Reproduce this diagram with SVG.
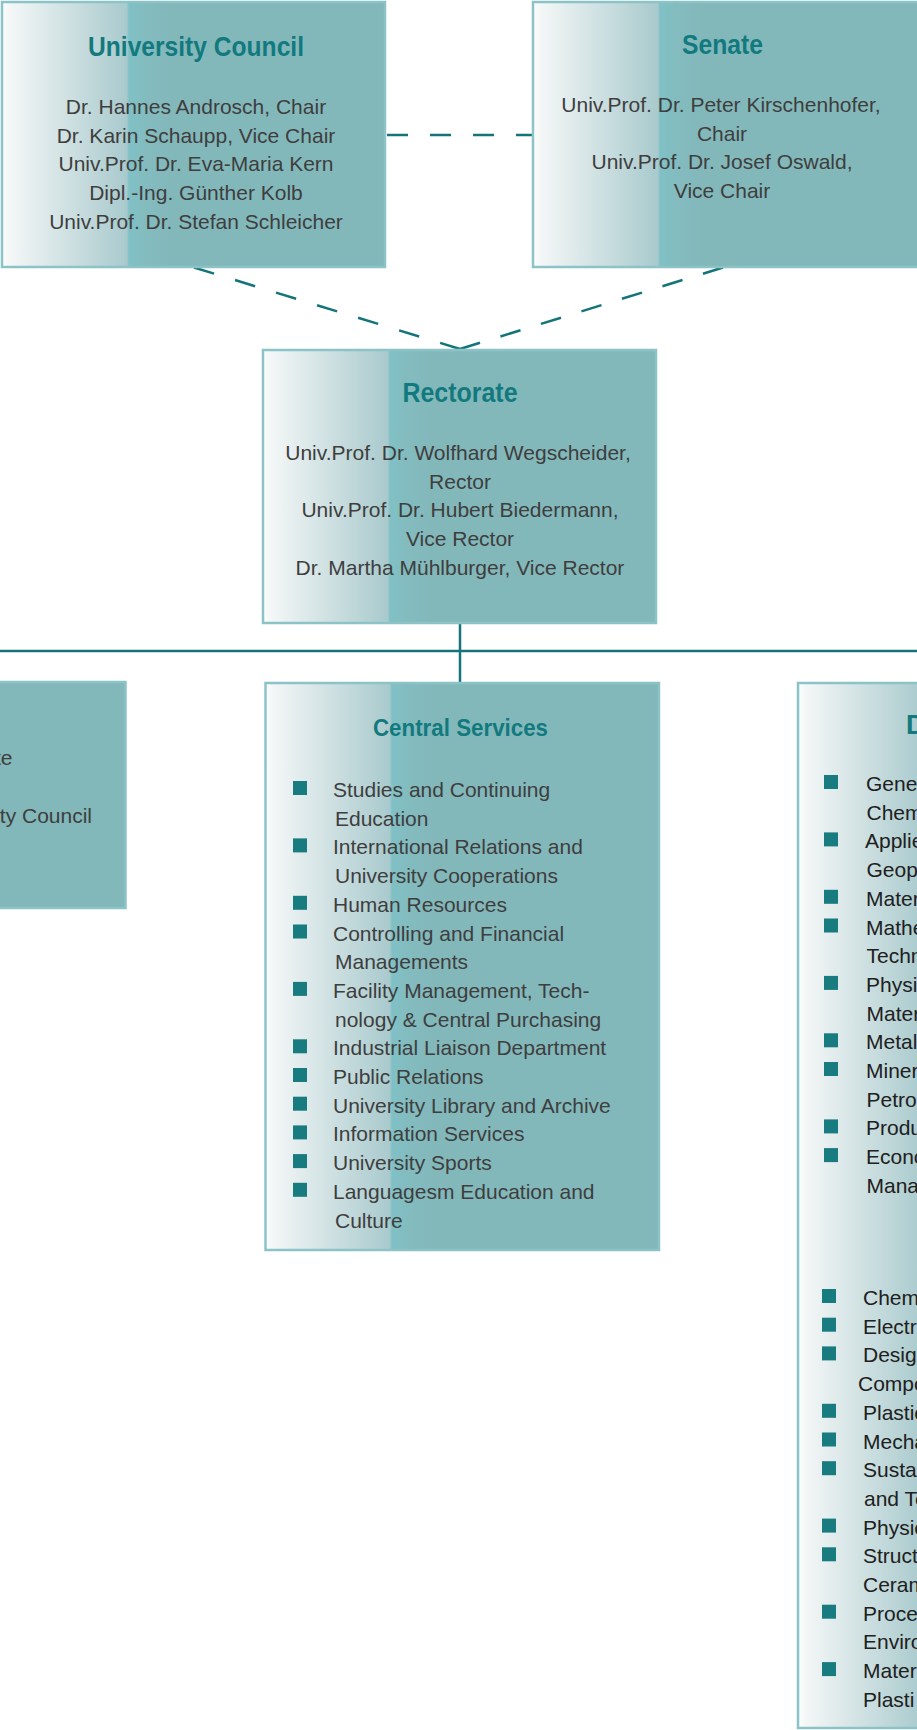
<svg xmlns="http://www.w3.org/2000/svg" width="917" height="1730" viewBox="0 0 917 1730">
  <style>
    .box { stroke: #8cc3c7; stroke-width: 2.5; }
    .flat { fill: #83b8bb; }
    .title { font-family: "Liberation Sans", Arial, sans-serif; font-weight: bold; font-size: 27px; fill: #127a7e; text-anchor: middle; }
    .body { font-family: "Liberation Sans", Arial, sans-serif; font-size: 21px; fill: #3e3e3e; }
    .mid { text-anchor: middle; }
    .end { text-anchor: end; }
    .dark { fill: #202020; }
    .bullet { fill: #187b7f; }
    .dash { stroke: #147479; stroke-width: 2.5; fill: none; }
    .solid { stroke: #147479; stroke-width: 2.5; fill: none; }
  </style>
  <defs>
    <!-- white-to-teal fade on the left part of every box, 128px wide -->
    <linearGradient id="fade" gradientUnits="userSpaceOnUse" x1="0" y1="0" x2="170" y2="0">
      <stop offset="0" stop-color="#fdfdfd"/>
      <stop offset="0.06" stop-color="#f3f6f6"/>
      <stop offset="0.74" stop-color="#a9cacd"/>
      <stop offset="0.752" stop-color="#80c1c6"/>
      <stop offset="0.86" stop-color="#83bbbe"/>
      <stop offset="1" stop-color="#83b8bb"/>
    </linearGradient>
    <linearGradient id="fadeCouncil" href="#fade" gradientTransform="translate(1,0)"/>
    <linearGradient id="fadeSenate" href="#fade" gradientTransform="translate(532,0)"/>
    <linearGradient id="fadeRectorate" href="#fade" gradientTransform="translate(262,0)"/>
    <linearGradient id="fadeServices" href="#fade" gradientTransform="translate(264,0)"/>
    <linearGradient id="fadeDepartments" href="#fade" gradientTransform="translate(797,0)"/>
  </defs>

  <g id="connectors">
    <line class="dash" x1="387" y1="135" x2="532" y2="135" stroke-dasharray="21 22"/>
    <line class="dash" x1="194" y1="267.5" x2="460" y2="349" stroke-dasharray="21 21.9"/>
    <line class="dash" x1="723" y1="267.5" x2="460" y2="349" stroke-dasharray="21 21.4"/>
    <line class="solid" x1="460" y1="624" x2="460" y2="682"/>
    <line class="solid" x1="0" y1="651" x2="917" y2="651"/>
  </g>

  <g id="university-council">
    <rect class="box" x="2" y="2" width="383" height="265" fill="url(#fadeCouncil)"/>
    <text class="title" x="196" y="56" textLength="216" lengthAdjust="spacingAndGlyphs">University Council</text>
    <text class="body mid" x="196" y="114">Dr. Hannes Androsch, Chair</text>
    <text class="body mid" x="196" y="142.7">Dr. Karin Schaupp, Vice Chair</text>
    <text class="body mid" x="196" y="171.4">Univ.Prof. Dr. Eva-Maria Kern</text>
    <text class="body mid" x="196" y="200.1">Dipl.-Ing. Günther Kolb</text>
    <text class="body mid" x="196" y="228.8">Univ.Prof. Dr. Stefan Schleicher</text>
  </g>

  <g id="senate">
    <rect class="box" x="533" y="2" width="390" height="265" fill="url(#fadeSenate)"/>
    <text class="title" x="722.5" y="54" textLength="81" lengthAdjust="spacingAndGlyphs">Senate</text>
    <text class="body mid" x="721" y="112">Univ.Prof. Dr. Peter Kirschenhofer,</text>
    <text class="body mid" x="722" y="140.7">Chair</text>
    <text class="body mid" x="722" y="169.4">Univ.Prof. Dr. Josef Oswald,</text>
    <text class="body mid" x="722" y="198.1">Vice Chair</text>
  </g>

  <g id="rectorate">
    <rect class="box" x="263" y="350" width="393" height="273" fill="url(#fadeRectorate)"/>
    <text class="title" x="460" y="401.5" textLength="115" lengthAdjust="spacingAndGlyphs">Rectorate</text>
    <text class="body mid" x="458" y="460">Univ.Prof. Dr. Wolfhard Wegscheider,</text>
    <text class="body mid" x="460" y="488.7">Rector</text>
    <text class="body mid" x="460" y="517.4">Univ.Prof. Dr. Hubert Biedermann,</text>
    <text class="body mid" x="460" y="546.1">Vice Rector</text>
    <text class="body mid" x="460" y="574.8">Dr. Martha Mühlburger, Vice Rector</text>
  </g>

  <g id="staff-units">
    <rect class="box flat" x="-5" y="682" width="130.5" height="226"/>
    <text class="body end" x="12.5" y="765">te</text>
    <text class="body end" x="92" y="822.7">ty Council</text>
  </g>

  <g id="central-services">
    <rect class="box" x="265.5" y="683" width="393.5" height="567" fill="url(#fadeServices)"/>
    <text class="title" x="460.5" y="736" textLength="175" lengthAdjust="spacingAndGlyphs" style="font-size:24px">Central Services</text>
    <g class="bullet">
      <rect x="293" y="781" width="14" height="14"/>
      <rect x="293" y="838.4" width="14" height="14"/>
      <rect x="293" y="895.8" width="14" height="14"/>
      <rect x="293" y="924.5" width="14" height="14"/>
      <rect x="293" y="981.9" width="14" height="14"/>
      <rect x="293" y="1039.3" width="14" height="14"/>
      <rect x="293" y="1068" width="14" height="14"/>
      <rect x="293" y="1096.7" width="14" height="14"/>
      <rect x="293" y="1125.4" width="14" height="14"/>
      <rect x="293" y="1154.1" width="14" height="14"/>
      <rect x="293" y="1182.8" width="14" height="14"/>
    </g>
    <text class="body" x="333" y="797">Studies and Continuing</text>
    <text class="body" x="335" y="825.7">Education</text>
    <text class="body" x="333" y="854.4">International Relations and</text>
    <text class="body" x="335" y="883.1">University Cooperations</text>
    <text class="body" x="333" y="911.8">Human Resources</text>
    <text class="body" x="333" y="940.5">Controlling and Financial</text>
    <text class="body" x="335" y="969.2">Managements</text>
    <text class="body" x="333" y="997.9">Facility Management, Tech-</text>
    <text class="body" x="335" y="1026.6">nology &amp; Central Purchasing</text>
    <text class="body" x="333" y="1055.3">Industrial Liaison Department</text>
    <text class="body" x="333" y="1084">Public Relations</text>
    <text class="body" x="333" y="1112.7">University Library and Archive</text>
    <text class="body" x="333" y="1141.4">Information Services</text>
    <text class="body" x="333" y="1170.1">University Sports</text>
    <text class="body" x="333" y="1198.8">Languagesm Education and</text>
    <text class="body" x="335" y="1227.5">Culture</text>
  </g>

  <g id="departments">
    <rect class="box" x="798" y="683" width="400" height="1045" fill="url(#fadeDepartments)"/>
    <text class="title" x="906" y="734" style="text-anchor:start">D</text>
    <g class="bullet">
      <rect x="824" y="775" width="14" height="14"/>
      <rect x="824" y="832.4" width="14" height="14"/>
      <rect x="824" y="889.8" width="14" height="14"/>
      <rect x="824" y="918.5" width="14" height="14"/>
      <rect x="824" y="975.9" width="14" height="14"/>
      <rect x="824" y="1033.3" width="14" height="14"/>
      <rect x="824" y="1062" width="14" height="14"/>
      <rect x="824" y="1119.4" width="14" height="14"/>
      <rect x="824" y="1148.1" width="14" height="14"/>
      <rect x="822" y="1289" width="14" height="14"/>
      <rect x="822" y="1317.7" width="14" height="14"/>
      <rect x="822" y="1346.4" width="14" height="14"/>
      <rect x="822" y="1403.8" width="14" height="14"/>
      <rect x="822" y="1432.5" width="14" height="14"/>
      <rect x="822" y="1461.2" width="14" height="14"/>
      <rect x="822" y="1518.6" width="14" height="14"/>
      <rect x="822" y="1547.3" width="14" height="14"/>
      <rect x="822" y="1604.7" width="14" height="14"/>
      <rect x="822" y="1662.1" width="14" height="14"/>
    </g>
    <g class="body dark">
      <text x="866" y="791">Gener</text>
      <text x="866.5" y="819.7">Chem</text>
      <text x="865" y="848.4">Applie</text>
      <text x="866.5" y="877.1">Geoph</text>
      <text x="866" y="905.8">Mater</text>
      <text x="866" y="934.5">Mathe</text>
      <text x="866.5" y="963.2">Techn</text>
      <text x="866" y="991.9">Physic</text>
      <text x="866.5" y="1020.6">Mater</text>
      <text x="866" y="1049.3">Metal</text>
      <text x="866" y="1078">Miner</text>
      <text x="866.5" y="1106.7">Petrol</text>
      <text x="866" y="1135.4">Produ</text>
      <text x="866" y="1164.1">Econo</text>
      <text x="866.5" y="1192.8">Mana</text>
      <text x="863" y="1305">Chem</text>
      <text x="863" y="1333.7">Electr</text>
      <text x="863" y="1362.4">Design</text>
      <text x="858" y="1391.1">Compo</text>
      <text x="863" y="1419.8">Plastic</text>
      <text x="863" y="1448.5">Mecha</text>
      <text x="863" y="1477.2">Sustai</text>
      <text x="864" y="1505.9">and Te</text>
      <text x="863" y="1534.6">Physic</text>
      <text x="863" y="1563.3">Struct</text>
      <text x="863" y="1592">Ceram</text>
      <text x="863" y="1620.7">Proces</text>
      <text x="863" y="1649.4">Enviro</text>
      <text x="863" y="1678.1">Mater</text>
      <text x="863" y="1706.8">Plasti</text>
    </g>
  </g>
</svg>
